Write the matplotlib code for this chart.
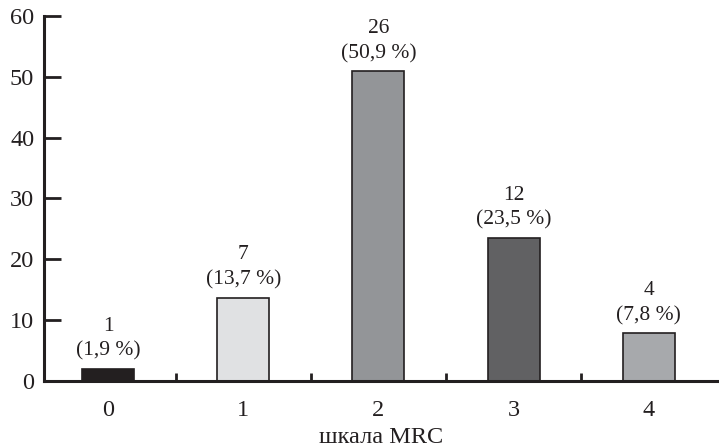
import matplotlib.pyplot as plt
from matplotlib.ticker import FixedLocator

plt.rcParams['font.family'] = ['Liberation Serif', 'DejaVu Serif']

categories = [0, 1, 2, 3, 4]
counts = [1, 7, 26, 12, 4]
percents = [1.9, 13.7, 50.9, 23.5, 7.8]
pct_labels = ['1,9', '13,7', '50,9', '23,5', '7,8']
colors = ['#231f20', '#e0e1e3', '#939598', '#616163', '#a7a9ac']

fig = plt.figure(figsize=(7.19, 4.48), dpi=100)
ax = fig.add_axes([0.061, 0.150, 0.939, 0.814])

ax.bar(categories, percents, width=0.385, color=colors,
       edgecolor='#231f20', linewidth=1.2)

for x, n, p, lab in zip(categories, counts, percents, pct_labels):
    ax.annotate(f'{n}\n({lab} %)', (x, p), xytext=(0, 6),
                textcoords='offset points', ha='center', va='bottom',
                fontsize=15.5, color='#231f20', linespacing=1.4)

ax.set_xlim(-0.475, 4.52)
ax.set_ylim(0, 60)
ax.set_yticks(range(0, 61, 10))
ax.set_xticks(categories)
ax.xaxis.set_minor_locator(FixedLocator([0.5, 1.5, 2.5, 3.5]))

for s in ['top', 'right']:
    ax.spines[s].set_visible(False)
for s in ['left', 'bottom']:
    ax.spines[s].set_linewidth(2.2)
    ax.spines[s].set_color('#231f20')

ax.tick_params(axis='y', direction='in', length=12, width=2,
               labelsize=17.5, colors='#231f20', pad=7)
ax.tick_params(axis='x', which='major', length=0, labelsize=17.5,
               colors='#231f20', pad=14)
ax.tick_params(axis='x', which='minor', direction='in', length=6, width=2,
               colors='#231f20')

ax.set_xlabel('шкала MRC', fontsize=17.5, color='#231f20', labelpad=4)

plt.savefig('out.png', dpi=100)
